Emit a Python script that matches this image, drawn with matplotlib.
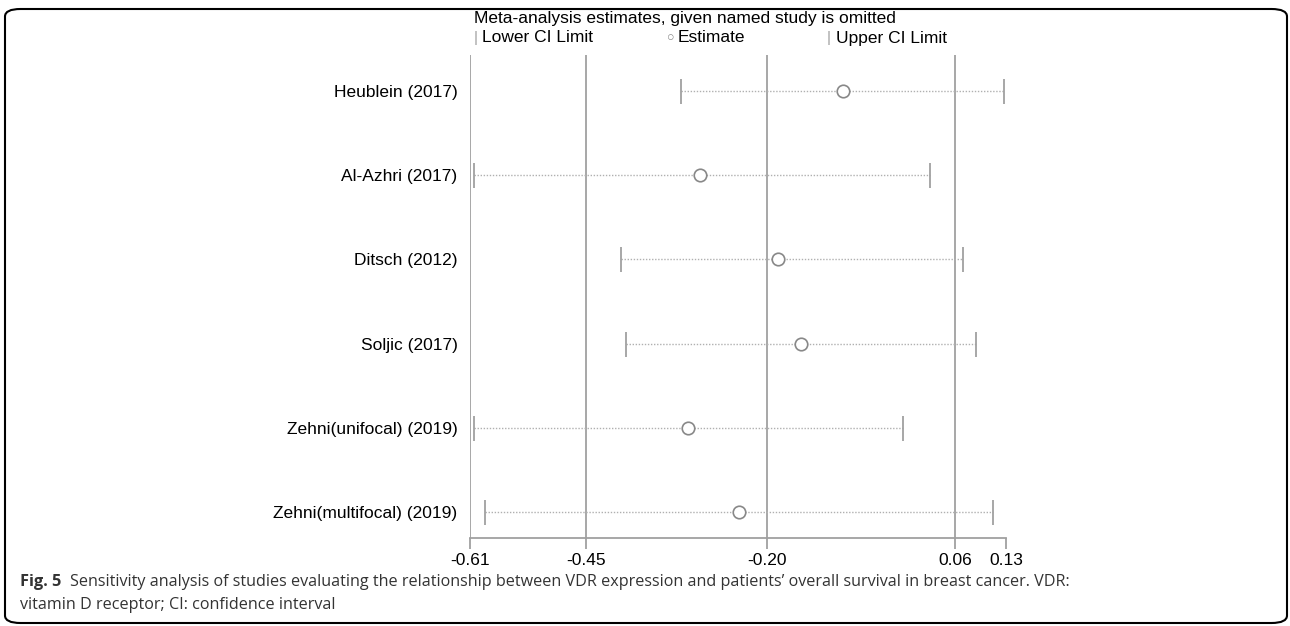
import matplotlib.pyplot as plt
from matplotlib.patches import FancyBboxPatch

# studi omessi e stime (lettura dal grafico)
studi = ['Heublein (2017)', 'Al-Azhri (2017)', 'Ditsch (2012)', 'Soljic (2017)',
         'Zehni(unifocal) (2019)', 'Zehni(multifocal) (2019)']
ci_inf = [-0.319, -0.605, -0.401, -0.395, -0.605, -0.589]
stima = [-0.095, -0.292, -0.185, -0.153, -0.309, -0.239]
ci_sup = [0.127, 0.025, 0.071, 0.089, -0.012, 0.112]

tick_x = [-0.61, -0.45, -0.20, 0.06, 0.13]
linee_x = [-0.61, -0.45, -0.20, 0.06]

plt.rcParams['font.family'] = ['Liberation Sans', 'DejaVu Sans']
grigio = '#a0a0a0'

fig = plt.figure(figsize=(12.9, 6.26), dpi=100)
W, H = 1290, 626
ax = fig.add_axes([470 / W, (H - 538) / H, 536 / W, (538 - 55) / H])

y = list(range(len(studi)))
for xv in linee_x:
    ax.axvline(xv, color=grigio, lw=1.3, zorder=1)

for i in y:
    ax.plot([ci_inf[i], ci_sup[i]], [i, i], color='#b0b0b0', lw=1.0, ls=(0, (1, 1.2)), zorder=2)
ax.plot(ci_inf, y, ls='none', marker='|', ms=18, mew=1.3, color=grigio, zorder=3)
ax.plot(ci_sup, y, ls='none', marker='|', ms=18, mew=1.3, color=grigio, zorder=3)
ax.plot(stima, y, ls='none', marker='o', ms=9, mfc='white', mec='#888888', mew=1.2, zorder=4)

ax.set_xlim(-0.61, 0.13)
ax.set_ylim(5.31, -0.43)
for s in ['top', 'right', 'left']:
    ax.spines[s].set_visible(False)
ax.spines['bottom'].set_color(grigio)
ax.spines['bottom'].set_linewidth(1.3)
ax.set_xticks(tick_x)
ax.set_xticklabels(['%.2f' % v for v in tick_x], fontsize=12.5)
ax.tick_params(axis='x', length=8, width=1.3, color=grigio, pad=3)
ax.set_yticks(y)
ax.set_yticklabels(studi, fontsize=12.5)
ax.tick_params(axis='y', length=0, pad=9)

fig.text(474 / W, 1 - 18 / H, 'Meta-analysis estimates, given named study is omitted',
         fontsize=12.5, va='center', ha='left')
fig.text(474 / W, 1 - 38 / H, '|', color=grigio, fontsize=11, va='center')
fig.text(482 / W, 1 - 38 / H, 'Lower CI Limit', fontsize=12.5, va='center')
fig.text(667 / W, 1 - 38 / H, '\u25cb', color='#888888', fontsize=9, va='center')
fig.text(678 / W, 1 - 38 / H, 'Estimate', fontsize=12.5, va='center')
fig.text(827 / W, 1 - 38 / H, '|', color=grigio, fontsize=11, va='center')
fig.text(836 / W, 1 - 38 / H, 'Upper CI Limit', fontsize=12.5, va='center')

# didascalia
cap = ('Sensitivity analysis of studies evaluating the relationship between VDR expression '
       'and patients\u2019 overall survival in breast cancer. VDR:')
fig.text(20 / W, 1 - 582 / H, 'Fig. 5', fontsize=11.8, fontweight='bold',
         family='Open Sans', color='#333333', va='center')
fig.text(70 / W, 1 - 582 / H, cap, fontsize=11.6, family='Open Sans',
         color='#333333', va='center')
fig.text(20 / W, 1 - 605 / H, 'vitamin D receptor; CI: confidence interval', fontsize=11.6,
         family='Open Sans', color='#333333', va='center')

box = FancyBboxPatch((5 / W, 3 / H), 1282 / W, 614 / H,
                     boxstyle='round,pad=0,rounding_size=0.012',
                     transform=fig.transFigure, fill=False, ec='black', lw=1.5)
fig.patches.append(box)

plt.savefig('out.png', dpi=100)
